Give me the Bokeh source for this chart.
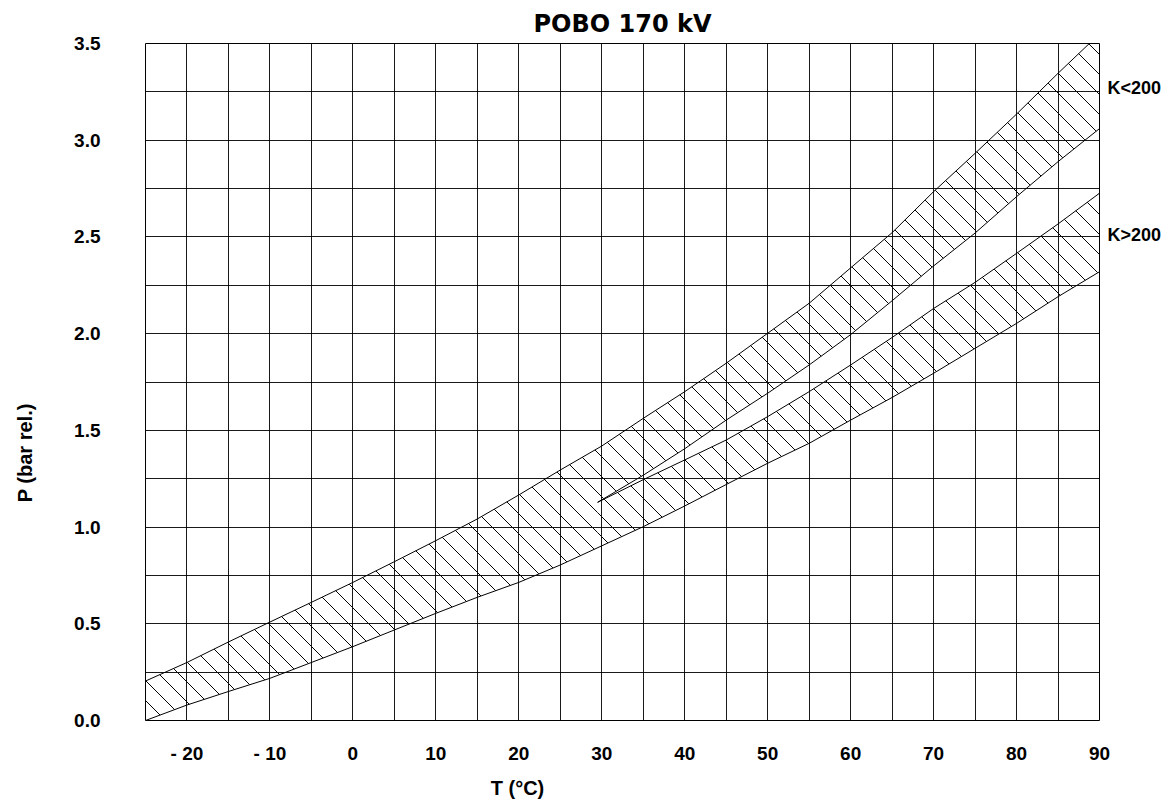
import numpy as np
from math import pi
from bokeh.plotting import figure
from bokeh.models import Range1d, FixedTicker, PrintfTickFormatter, LinearAxis
from bokeh.embed import file_html
from bokeh.resources import INLINE

# ---- data ----
temp_all = [-25, -20, -15, -10, -5, 0, 5, 10, 15, 20, 25, 30,
            35, 40, 45, 50, 55, 60, 65, 70, 75, 80, 85, 90]
# upper limit, K<200 band
p_upper_klt = [0.204, 0.30, 0.406, 0.509, 0.611, 0.714, 0.821, 0.93, 1.042, 1.166, 1.295, 1.419,
               1.562, 1.70, 1.847, 2.002, 2.157, 2.34, 2.522, 2.734, 2.932, 3.135, 3.346, 3.55]
# lower limit of everything (K>200 lower)
p_lower_all = [0.0, 0.08, 0.15, 0.218, 0.30, 0.382, 0.468, 0.554, 0.637, 0.714, 0.804, 0.903,
               1.002, 1.109, 1.22, 1.33, 1.433, 1.553, 1.67, 1.795, 1.924, 2.053, 2.191, 2.32]

temp_split = [29.5, 35, 40, 45, 50, 55, 60, 65, 70, 75, 80, 85, 90]
# lower limit, K<200 band (above the split)
p_lower_klt = [1.128, 1.268, 1.405, 1.553, 1.692, 1.838, 1.995, 2.17, 2.35, 2.52, 2.708, 2.889, 3.06]
# upper limit, K>200 band
p_upper_kgt = [1.128, 1.245, 1.347, 1.45, 1.571, 1.70, 1.838, 1.98, 2.13, 2.265, 2.415, 2.567, 2.726]

x_ticks = [-20, -10, 0, 10, 20, 30, 40, 50, 60, 70, 80, 90]
x_tick_labels = {-20: "- 20", -10: "- 10"}
y_ticks = [0.0, 0.5, 1.0, 1.5, 2.0, 2.5, 3.0, 3.5]

title_text = "POBO 170 kV"
x_label = "T (°C)"
y_label = "P (bar rel.)"
band_labels = ["K<200", "K>200"]
band_label_p = [3.27, 2.51]
x_label_T = 19.84      # anchor of the axis titles, as placed in the reference
y_label_P = 1.64

FONT = "Liberation Sans"

# ---- layout ----
W, H = 1168, 802
BL, BR, BT, BB = 145, 69, 43, 82
T0, T1, P0, P1 = -25, 90, 0, 3.5

p = figure(width=W, height=H, output_backend="svg", toolbar_location=None,
           x_range=Range1d(T0, T1), y_range=Range1d(P0, P1),
           min_border_left=BL, min_border_right=BR, min_border_top=BT, min_border_bottom=BB)
p.background_fill_color = "white"
p.border_fill_color = "white"
p.outline_line_color = "black"
p.outline_line_width = 1

# title
p.title.text = title_text
p.title.align = "left"
p.title.offset = 388
p.title.text_font = "DejaVu Sans"
p.title.text_font_style = "bold"
p.title.text_font_size = "24px"
p.title.text_color = "black"
p.title.standoff = 11

# grid
p.xgrid.ticker = FixedTicker(ticks=list(range(-25, 95, 5)))
p.ygrid.ticker = FixedTicker(ticks=[i * 0.25 for i in range(15)])
for g in (p.xgrid, p.ygrid):
    g.grid_line_color = "black"
    g.grid_line_width = 1
    g.grid_line_alpha = 0.9

# axes
xax = p.xaxis[0]
yax = p.yaxis[0]
rax = LinearAxis(ticker=FixedTicker(ticks=band_label_p),
                 major_label_overrides=dict(zip(band_label_p, band_labels)))
p.add_layout(rax, "right")

# outer axes that carry the axis titles as single tick labels
xlab_ax = LinearAxis(ticker=FixedTicker(ticks=[x_label_T]),
                     major_label_overrides={x_label_T: x_label})
ylab_ax = LinearAxis(ticker=FixedTicker(ticks=[y_label_P]),
                     major_label_overrides={y_label_P: y_label},
                     major_label_orientation=pi / 2)
p.add_layout(xlab_ax, "below")
p.add_layout(ylab_ax, "left")

for ax in (xax, yax, rax, xlab_ax, ylab_ax):
    ax.axis_line_color = None
    ax.major_tick_line_color = None
    ax.minor_tick_line_color = None
    ax.major_tick_out = 0
    ax.major_tick_in = 0
    ax.minor_tick_out = 0
    ax.minor_tick_in = 0
    ax.major_label_text_font = FONT
    ax.major_label_text_font_style = "bold"
    ax.major_label_text_font_size = "19px"
    ax.major_label_text_color = "black"
rax.major_label_text_font_size = "18px"
rax.major_label_standoff = 8
xlab_ax.major_label_text_font_size = "20px"
xlab_ax.major_label_standoff = 10
ylab_ax.major_label_text_font_size = "20px"
ylab_ax.major_label_standoff = 46

xax.ticker = FixedTicker(ticks=x_ticks)
xax.major_label_overrides = x_tick_labels
xax.major_label_standoff = 22
yax.ticker = FixedTicker(ticks=y_ticks)
yax.formatter = PrintfTickFormatter(format="%.1f")
yax.major_label_standoff = 45

# ---- hatched bands: 45-degree lines (in screen space) clipped to each band ----
px_per_T = (W - BL - BR) / (T1 - T0)
px_per_P = (H - BT - BB) / (P1 - P0)
k = px_per_T / px_per_P            # data slope of a 45-degree screen line
spacing_px = 20
dc = spacing_px / px_per_P

ta = np.array(temp_all, float)
t_split = temp_split[0]
d_split = float(np.interp(t_split, temp_all, p_lower_all))

# band 1 (K<200): between upper curve and (lower-all below split, K<200 lower above split)
fa = np.array(p_upper_klt) + k * ta
g_T = [t for t in temp_all if t < t_split] + [t_split] + list(temp_split)
g_P = [v for t, v in zip(temp_all, p_lower_all) if t < t_split] + [d_split] + list(p_lower_klt)
g_v = np.array(g_P) + k * np.array(g_T)
# band 2 (K>200): between K>200 upper and lower-all, above split
ts = np.array(temp_split, float)
fc = np.array(p_upper_kgt) + k * ts
hi_T = [t_split] + [t for t in temp_all if t > t_split]
hi_P = [d_split] + [v for t, v in zip(temp_all, p_lower_all) if t > t_split]
fd = np.array(hi_P) + k * np.array(hi_T)

cs = np.arange(g_v.min() - dc, fa.max() + dc, dc)
x0s, y0s, x1s, y1s = [], [], [], []
for c in cs:
    for ta_, tb_ in ((np.interp(c, fa, ta), np.interp(c, g_v, g_T)),
                     (np.interp(c, fc, ts), np.interp(c, fd, hi_T))):
        if tb_ > ta_ + 1e-9:
            x0s.append(ta_); y0s.append(c - k * ta_)
            x1s.append(tb_); y1s.append(c - k * tb_)

p.segment(x0s, y0s, x1s, y1s, line_color="black", line_width=1)

# boundary curves
p.line(temp_all, p_upper_klt, line_color="black", line_width=1)
p.line(temp_all, p_lower_all, line_color="black", line_width=1)
p.line(temp_split, p_lower_klt, line_color="black", line_width=1)
p.line(temp_split, p_upper_kgt, line_color="black", line_width=1)

open("out.html", "w").write(file_html(p, INLINE))
